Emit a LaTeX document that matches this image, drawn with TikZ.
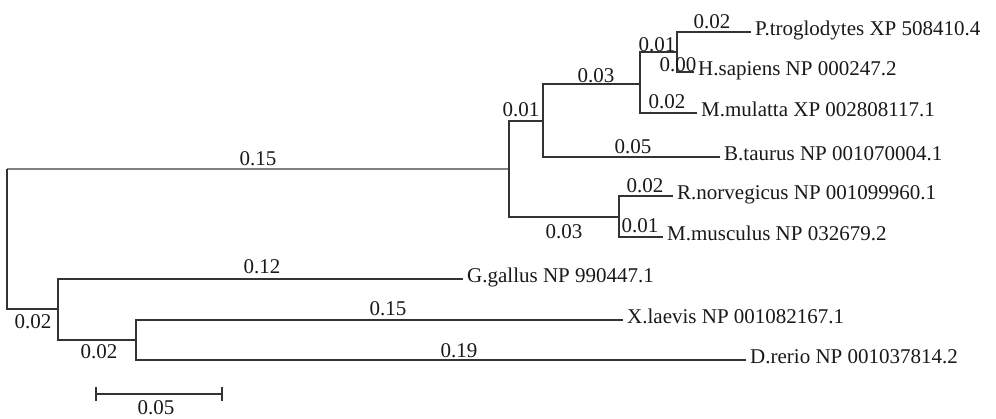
\documentclass[tikz,border=0pt]{standalone}
\usepackage{fontspec}
\setmainfont{Liberation Serif}
\begin{document}
\begin{tikzpicture}[x=1pt,y=-1pt,
  br/.style={draw=black!80,line width=1.2pt},
  lightbr/.style={draw=black!50,line width=1.2pt},
  leaf/.style={anchor=west,inner xsep=4pt,inner ysep=0pt,text height=0.7em,text depth=0.05em,font=\fontsize{21}{24}\selectfont,text=black!90},
  bl/.style={anchor=base,inner sep=0pt,font=\fontsize{21}{24}\selectfont,text=black!90}]
\useasboundingbox (0,0) rectangle (996,418);
% internal nodes
\coordinate (root) at (7,239);
\coordinate (nA) at (509,169);
\coordinate (nB) at (543,121);
\coordinate (nC) at (640,84);
\coordinate (nD) at (677,52);
\coordinate (nE) at (619,217);
\coordinate (nF) at (58,309);
\coordinate (nG) at (136,340);
% leaves
\node[leaf] (ptro) at (751,32) {P.troglodytes XP 508410.4};
\node[leaf] (hsap) at (694,72) {H.sapiens NP 000247.2};
\node[leaf] (mmul) at (697,113) {M.mulatta XP 002808117.1};
\node[leaf] (btau) at (720,157) {B.taurus NP 001070004.1};
\node[leaf] (rnor) at (673,196) {R.norvegicus NP 001099960.1};
\node[leaf] (mmus) at (663,237) {M.musculus NP 032679.2};
\node[leaf] (ggal) at (463,279) {G.gallus NP 990447.1};
\node[leaf] (xlae) at (623,320) {X.laevis NP 001082167.1};
\node[leaf] (drer) at (746,360) {D.rerio NP 001037814.2};
% branches
\draw[lightbr] (root |- nA) -- (nA);
\draw[br] (root) -- (root |- nA);
\draw[br] (root) |- (nF);
\draw[br] (nA) |- (nB);
\draw[br] (nA) |- (nE);
\draw[br] (nB) |- (nC);
\draw[br] (nB) |- (btau.west);
\draw[br] (nC) |- (nD);
\draw[br] (nC) |- (mmul.west);
\draw[br] (nD) |- (ptro.west);
\draw[br] (nD) |- (hsap.west);
\draw[br] (nE) |- (rnor.west);
\draw[br] (nE) |- (mmus.west);
\draw[br] (nF) |- (ggal.west);
\draw[br] (nF) |- (nG);
\draw[br] (nG) |- (xlae.west);
\draw[br] (nG) |- (drer.west);
% branch lengths
\node[bl] (l1) at (258,165) {0.15};
\node[bl] (l2) at (521,116) {0.01};
\node[bl] (l3) at (596,82) {0.03};
\node[bl] (l4) at (657,51) {0.01};
\node[bl] (l5) at (712,28) {0.02};
\node[bl] (l6) at (678,71) {0.00};
\node[bl] (l7) at (667,108) {0.02};
\node[bl] (l8) at (633,153) {0.05};
\node[bl] (l9) at (645,192) {0.02};
\node[bl] (l10) at (640,232) {0.01};
\node[bl] (l11) at (564,238) {0.03};
\node[bl] (l12) at (262,273) {0.12};
\node[bl] (l13) at (388,315) {0.15};
\node[bl] (l14) at (459,357) {0.19};
\node[bl] (l15) at (33,328) {0.02};
\node[bl] (l16) at (99,358) {0.02};
% scale bar
\coordinate (s1) at (96,394);
\coordinate (s2) at (222,394);
\draw[br] (s1) -- (s2);
\draw[br] ([yshift=-7pt]s1) -- ([yshift=7pt]s1);
\draw[br] ([yshift=-7pt]s2) -- ([yshift=7pt]s2);
\node[bl] (sc) at (156,414) {0.05};
\end{tikzpicture}
\end{document}
